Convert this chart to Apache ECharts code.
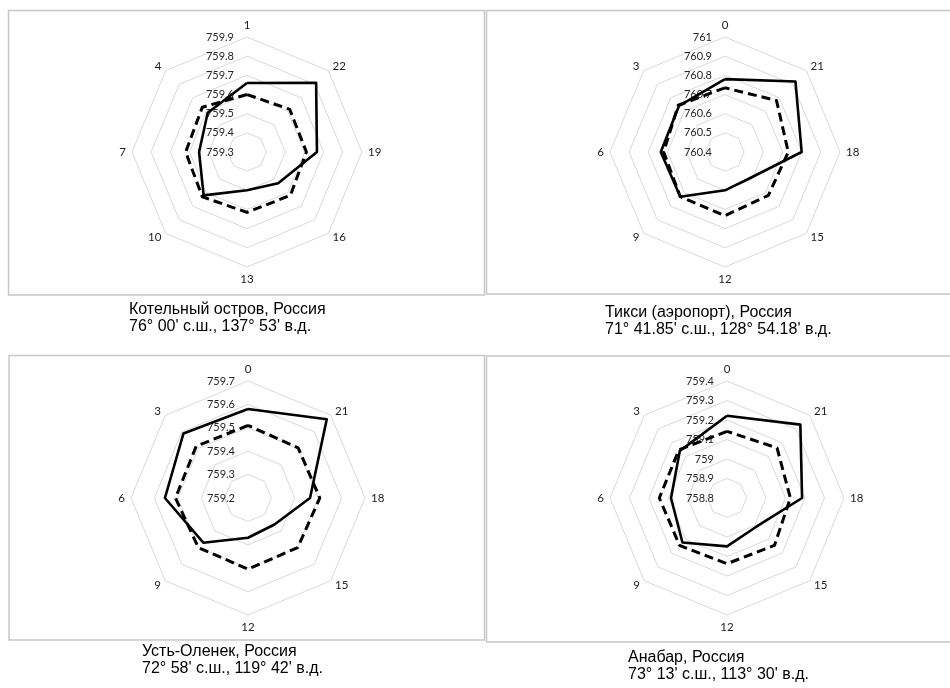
<!DOCTYPE html>
<html>
<head>
<meta charset="utf-8">
<title>Суточный ход давления</title>
<style>
  html, body { margin: 0; padding: 0; background: #fff; }
  #chart { width: 950px; height: 688px; }
</style>
<script src="https://cdn.jsdelivr.net/npm/echarts@6/dist/echarts.min.js"></script>
</head>
<body>
<div id="chart"></div>
<script>
// сроки наблюдений (по возрастанию часа — ECharts раскладывает их против часовой)
const hoursKotelny = ['1', '4', '7', '10', '13', '16', '19', '22'];
const hoursOther = ['0', '3', '6', '9', '12', '15', '18', '21'];

// Котельный остров
const kotelnySolid  = [759.66, 759.59, 759.55, 759.62, 759.50, 759.53, 759.665, 759.81];
const kotelnyDashed = [759.60, 759.63, 759.62, 759.63, 759.615, 759.62, 759.61, 759.615];
const kotelnyTicks  = ['759.3', '759.4', '759.5', '759.6', '759.7', '759.8', '759.9'];

// Тикси
const tiksiSolid  = [760.78, 760.74, 760.735, 760.73, 760.60, 760.59, 760.80, 760.92];
const tiksiDashed = [760.735, 760.745, 760.72, 760.73, 760.732, 760.72, 760.73, 760.78];
const tiksiTicks  = ['760.4', '760.5', '760.6', '760.7', '760.8', '760.9', '761'];

// Усть-Оленек
const olenekSolid  = [759.58, 759.59, 759.555, 759.47, 759.37, 759.36, 759.465, 759.676];
const olenekDashed = [759.51, 759.513, 759.51, 759.50, 759.504, 759.50, 759.507, 759.503];
const olenekTicks  = ['759.2', '759.3', '759.4', '759.5', '759.6', '759.7'];

// Анабар
const anabarSolid  = [759.222, 759.142, 759.087, 759.123, 759.048, 759.01, 759.185, 759.332];
const anabarDashed = [759.142, 759.149, 759.147, 759.144, 759.137, 759.144, 759.125, 759.163];
const anabarTicks  = ['758.8', '758.9', '759', '759.1', '759.2', '759.3', '759.4'];

const stations = [
  { hours: hoursKotelny, solid: kotelnySolid, dashed: kotelnyDashed, ticks: kotelnyTicks,
    center: [247, 152], radius: 115,
    box: [8.5, 10.5, 476, 284.5],
    title: ['Котельный остров, Россия', "76° 00' с.ш., 137° 53' в.д."], tx: 129, ty: 310 },
  { hours: hoursOther, solid: tiksiSolid, dashed: tiksiDashed, ticks: tiksiTicks,
    center: [725, 152], radius: 115,
    box: [486.5, 10.5, 470, 283.5],
    title: ['Тикси (аэропорт), Россия', "71° 41.85' с.ш., 128° 54.18' в.д."], tx: 605, ty: 313 },
  { hours: hoursOther, solid: olenekSolid, dashed: olenekDashed, ticks: olenekTicks,
    center: [248, 498], radius: 117,
    box: [9, 355.5, 475.5, 284.5],
    title: ['Усть-Оленек, Россия', "72° 58' с.ш., 119° 42' в.д."], tx: 142, ty: 652 },
  { hours: hoursOther, solid: anabarSolid, dashed: anabarDashed, ticks: anabarTicks,
    center: [727, 498], radius: 117,
    box: [486.5, 356, 470, 286],
    title: ['Анабар, Россия', "73° 13' с.ш., 113° 30' в.д."], tx: 628, ty: 658 }
];

const chart = echarts.init(document.getElementById('chart'));

const radars = [];
const series = [];
const graphics = [];

stations.forEach((st, k) => {
  const min = parseFloat(st.ticks[0]);
  const max = parseFloat(st.ticks[st.ticks.length - 1]);
  radars.push({
    center: st.center,
    radius: st.radius,
    startAngle: 90,
    shape: 'polygon',
    splitNumber: st.ticks.length - 1,
    axisName: { color: '#222', fontSize: 11.5, fontFamily: 'Lato' },
    nameGap: 6,
    axisLine: { show: false },
    axisTick: { show: false },
    splitArea: { show: false },
    splitLine: { lineStyle: { color: '#d9d9d9', width: 1 } },
    axisLabel: { show: false },
    indicator: st.hours.map((h, i) => {
      const ind = { name: h, min: min, max: max };
      if (i === 0) {
        ind.axisLabel = {
          show: true,
          color: '#262626',
          fontSize: 11,
          fontFamily: 'Lato',
          align: 'right',
          margin: 13,
          formatter: v => String(parseFloat((+v).toFixed(1)))
        };
      }
      return ind;
    })
  });
  series.push({
    type: 'radar',
    radarIndex: k,
    symbol: 'none',
    silent: true,
    data: [
      { value: st.dashed, lineStyle: { color: '#000', width: 3, type: [9, 5] } },
      { value: st.solid, lineStyle: { color: '#000', width: 2.6, type: 'solid' } }
    ]
  });
  graphics.push({
    type: 'rect',
    shape: { x: st.box[0], y: st.box[1], width: st.box[2], height: st.box[3] },
    style: { fill: null, stroke: '#c8c8c8', lineWidth: 1.5 },
    silent: true
  });
  st.title.forEach((line, j) => {
    graphics.push({
      type: 'text',
      x: st.tx,
      y: st.ty + j * 17,
      style: {
        text: line,
        fill: '#000',
        font: '16px "Liberation Sans", Arial, sans-serif',
        verticalAlign: 'middle'
      },
      silent: true
    });
  });
});

chart.setOption({
  backgroundColor: '#fff',
  animation: false,
  radar: radars,
  series: series,
  graphic: graphics
});
</script>
</body>
</html>
